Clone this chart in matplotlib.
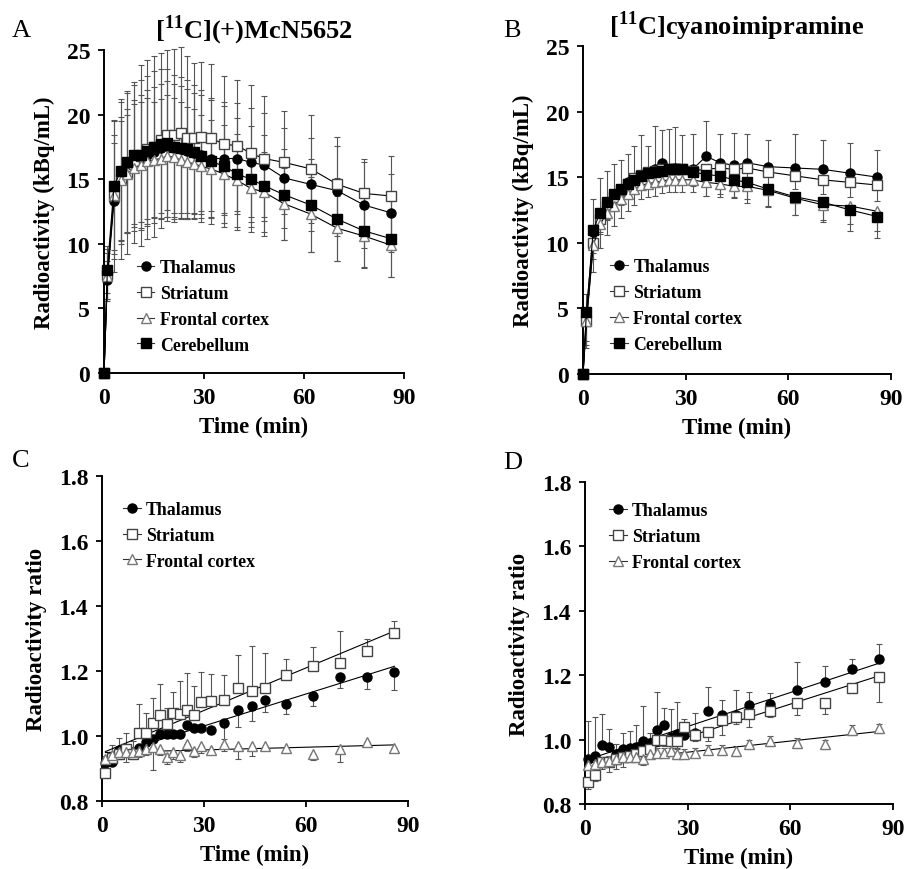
import numpy as np
import matplotlib
matplotlib.use("Agg")
import matplotlib.pyplot as plt

plt.rcParams["font.family"] = ["Liberation Serif", "DejaVu Serif"]
plt.rcParams["font.weight"] = "bold"
plt.rcParams["mathtext.fontset"] = "custom"
plt.rcParams["mathtext.rm"] = "Liberation Serif:bold"
plt.rcParams["mathtext.bf"] = "Liberation Serif:bold"

# frame mid-times (min)
t_kin = [0, 1, 3, 5, 7, 9, 11, 13, 15, 17, 19, 21, 23, 25, 27, 29, 32, 36, 40, 44, 48, 54, 62, 70, 78, 86]
t_ratio = t_kin[1:]

regions = ["Thalamus", "Striatum", "Frontal cortex", "Cerebellum"]

# A: [11C](+)McN5652, kBq/mL, mean and SD
a_thal = [0, 7.2, 13.3, 14.9, 15.6, 16.3, 16.6, 16.9, 17.1, 17.4, 17.6, 17.4, 17.3, 17.2, 17.0, 16.9, 16.6, 16.6, 16.6, 16.3, 16.1, 15.1, 14.6, 14.1, 13.0, 12.4]
a_thal_sd = [0, 1.5, 4.5, 4.6, 4.8, 4.8, 4.9, 5.0, 5.0, 5.0, 5.0, 5.0, 4.9, 4.8, 4.7, 4.6, 4.5, 4.4, 4.3, 4.2, 4.0, 3.9, 3.6, 3.5, 3.3, 3.0]
a_str = [0, 7.6, 13.7, 15.0, 15.5, 16.2, 16.8, 17.3, 17.5, 18.0, 18.4, 18.4, 18.6, 18.2, 18.2, 18.3, 18.2, 17.7, 17.6, 17.0, 16.6, 16.3, 15.8, 14.6, 13.9, 13.7]
a_str_sd = [0, 2.0, 5.9, 6.2, 6.3, 6.1, 7.0, 6.9, 7.0, 6.8, 6.6, 6.7, 6.6, 6.3, 5.8, 5.8, 5.7, 5.3, 5.1, 5.3, 4.8, 4.0, 4.2, 3.7, 2.7, 3.1]
a_fro = [0, 7.5, 13.8, 14.9, 15.4, 15.9, 16.1, 16.4, 16.5, 16.6, 16.8, 16.7, 16.5, 16.3, 16.2, 16.0, 15.8, 15.4, 14.9, 14.3, 14.0, 13.1, 12.3, 11.2, 10.6, 9.9]
a_fro_sd = [0, 1.8, 4.6, 4.9, 4.6, 4.9, 4.9, 4.9, 4.5, 4.6, 4.7, 4.6, 4.5, 4.3, 4.2, 4.0, 3.8, 3.8, 3.6, 3.0, 3.1, 2.8, 2.9, 2.5, 2.4, 2.5]
a_cer = [0, 8.0, 14.5, 15.6, 16.3, 16.9, 16.9, 17.2, 17.5, 17.7, 17.8, 17.5, 17.4, 17.3, 17.1, 16.8, 16.4, 16.0, 15.4, 15.0, 14.5, 13.8, 13.0, 11.9, 11.0, 10.4]
a_cer_sd = [0, 1.8, 5.0, 5.4, 5.4, 5.6, 5.8, 5.8, 5.9, 5.8, 5.7, 5.6, 5.5, 5.4, 5.2, 5.1, 4.9, 4.7, 4.3, 4.1, 3.9, 3.5, 3.6, 3.2, 2.9, 3.0]

# B: [11C]cyanoimipramine, kBq/mL
b_thal = [0, 4.6, 10.8, 12.2, 13.0, 13.6, 14.1, 14.6, 14.9, 15.2, 15.4, 15.6, 16.1, 15.6, 15.7, 15.6, 15.6, 16.6, 16.1, 15.9, 16.1, 15.8, 15.7, 15.6, 15.3, 15.0]
b_thal_up = [0, 1.5, 2.5, 2.7, 2.5, 2.4, 2.2, 2.2, 2.5, 3.0, 2.0, 3.3, 2.5, 3.1, 3.1, 2.6, 2.7, 2.7, 2.2, 2.5, 2.2, 2.0, 2.6, 2.2, 2.3, 2.1]
b_str = [0, 4.0, 10.0, 11.8, 12.8, 13.5, 14.0, 14.5, 14.9, 15.2, 15.4, 15.5, 15.6, 15.6, 15.6, 15.6, 15.5, 15.6, 15.7, 15.6, 15.7, 15.4, 15.1, 14.8, 14.6, 14.4]
b_str_dn = [0, 1.5, 1.2, 1.1, 1.0, 1.0, 1.0, 0.9, 0.9, 0.9, 0.9, 0.9, 0.9, 0.9, 0.9, 0.9, 0.9, 1.0, 1.0, 1.0, 1.0, 1.0, 1.0, 1.1, 1.1, 1.2]
b_fro = [0, 4.0, 9.8, 11.4, 12.3, 12.8, 13.3, 13.7, 14.1, 14.4, 14.5, 14.6, 14.7, 14.8, 14.8, 14.8, 14.8, 14.6, 14.5, 14.3, 14.3, 14.0, 13.4, 12.9, 12.8, 12.4]
b_fro_dn = [0, 2.0, 2.0, 1.8, 1.7, 1.5, 1.4, 1.3, 1.2, 1.1, 1.0, 1.0, 0.9, 0.9, 0.9, 0.9, 0.9, 1.0, 1.0, 0.9, 1.0, 1.2, 1.3, 1.3, 1.4, 1.5]
b_cer = [0, 4.7, 11.0, 12.3, 13.1, 13.7, 14.1, 14.5, 14.8, 15.1, 15.3, 15.4, 15.5, 15.6, 15.6, 15.6, 15.4, 15.2, 15.1, 14.8, 14.6, 14.1, 13.5, 13.1, 12.5, 12.0]
b_cer_dn = [0, 2.5, 1.8, 1.5, 1.4, 1.3, 1.2, 1.2, 1.1, 1.1, 1.1, 1.0, 1.0, 1.0, 1.0, 1.0, 1.1, 1.6, 1.4, 1.3, 1.6, 1.4, 1.4, 1.4, 1.6, 1.6]

# C: ratio to cerebellum, [11C](+)McN5652
c_thal = [0.918, 0.92, 0.956, 0.954, 0.95, 0.964, 0.98, 0.99, 1.005, 1.005, 1.005, 1.005, 1.034, 1.026, 1.026, 1.017, 1.04, 1.079, 1.092, 1.11, 1.097, 1.123, 1.18, 1.18, 1.198]
c_thal_dn = [0.01, 0.01, 0.01, 0.01, 0.01, 0.01, 0.01, 0.01, 0.01, 0.01, 0.01, 0.01, 0.01, 0.01, 0.01, 0.01, 0.05, 0.05, 0.046, 0.037, 0.028, 0.03, 0.033, 0.034, 0.057]
c_str = [0.887, 0.933, 0.944, 0.96, 0.944, 1.01, 1.01, 1.04, 1.064, 1.036, 1.07, 1.067, 1.08, 1.064, 1.105, 1.108, 1.11, 1.149, 1.138, 1.149, 1.187, 1.215, 1.226, 1.26, 1.316]
c_str_up = [0.05, 0.04, 0.05, 0.05, 0.04, 0.088, 0.06, 0.077, 0.096, 0.05, 0.064, 0.103, 0.113, 0.09, 0.093, 0.082, 0.079, 0.1, 0.14, 0.105, 0.05, 0.058, 0.097, 0.038, 0.038]
c_fro = [0.93, 0.94, 0.95, 0.95, 0.95, 0.955, 0.96, 0.965, 0.96, 0.935, 0.95, 0.94, 0.975, 0.955, 0.968, 0.958, 0.975, 0.97, 0.968, 0.97, 0.962, 0.945, 0.96, 0.98, 0.963]
c_fro_dn = [0.02, 0.02, 0.02, 0.03, 0.02, 0.02, 0.02, 0.07, 0.02, 0.02, 0.02, 0.02, 0.02, 0.02, 0.02, 0.01, 0.02, 0.04, 0.03, 0.01, 0.01, 0.02, 0.04, 0.01, 0.01]

# D: ratio to cerebellum, [11C]cyanoimipramine
d_thal = [0.94, 0.95, 0.984, 0.976, 0.955, 0.97, 0.974, 0.976, 0.997, 0.99, 1.03, 1.046, 1.007, 1.018, 1.015, 1.02, 1.09, 1.075, 1.075, 1.108, 1.11, 1.155, 1.18, 1.22, 1.25]
d_thal_up = [0.117, 0.12, 0.095, 0.057, 0.03, 0.052, 0.054, 0.07, 0.107, 0.03, 0.117, 0.052, 0.088, 0.1, 0.05, 0.062, 0.072, 0.047, 0.078, 0.04, 0.036, 0.085, 0.048, 0.03, 0.047]
d_str = [0.867, 0.891, 0.93, 0.93, 0.94, 0.945, 0.95, 0.955, 0.965, 0.97, 1.0, 1.0, 0.995, 0.995, 1.04, 1.015, 1.025, 1.06, 1.07, 1.08, 1.09, 1.115, 1.115, 1.16, 1.195]
d_str_dn = [0.02, 0.02, 0.02, 0.03, 0.03, 0.03, 0.02, 0.02, 0.02, 0.02, 0.02, 0.02, 0.02, 0.02, 0.03, 0.02, 0.03, 0.045, 0.02, 0.04, 0.02, 0.04, 0.035, 0.01, 0.077]
d_fro = [0.92, 0.925, 0.93, 0.935, 0.94, 0.945, 0.945, 0.945, 0.94, 0.955, 0.96, 0.96, 0.965, 0.955, 0.955, 0.96, 0.969, 0.967, 0.964, 0.985, 0.995, 0.99, 0.985, 1.03, 1.035]
d_fro_sd = [0.015, 0.015, 0.015, 0.015, 0.015, 0.015, 0.015, 0.015, 0.02, 0.015, 0.015, 0.015, 0.015, 0.015, 0.015, 0.015, 0.015, 0.015, 0.015, 0.015, 0.015, 0.015, 0.015, 0.015, 0.015]

style = {
    "Thalamus": dict(marker="o", mfc="black", mec="black", ms=6.5),
    "Striatum": dict(marker="s", mfc="white", mec="#444444", ms=7),
    "Frontal cortex": dict(marker="^", mfc="white", mec="#777777", ms=7.5),
    "Cerebellum": dict(marker="s", mfc="black", mec="black", ms=6.5),
}

TICK = 17
LAB = 16.5


def zeros(n):
    return [0] * n


def setup(ax, ylim, yticks, fmt, ylabel):
    ax.set_xlim(0, 90)
    ax.set_ylim(*ylim)
    ax.set_xticks([0, 30, 60, 90])
    ax.set_yticks(yticks)
    ax.set_yticklabels([fmt.format(v) for v in yticks])
    for s in ["top", "right"]:
        ax.spines[s].set_visible(False)
    for s in ["left", "bottom"]:
        ax.spines[s].set_linewidth(1.4)
    ax.tick_params(direction="out", length=4, width=1.3, labelsize=TICK, pad=6)
    ax.set_xlabel("Time (min)", fontsize=LAB, fontweight="bold", labelpad=6)
    ax.set_ylabel(ylabel, fontsize=LAB, fontweight="bold", labelpad=8)


def draw(ax, t, series, lines=True):
    handles = []
    for name, y, lo, hi in series:
        ax.errorbar(t, y, yerr=[lo, hi], fmt="none", ecolor="#555555",
                    elinewidth=0.8, capsize=2.5, capthick=0.8, zorder=2, clip_on=False)
    for name, y, lo, hi in series:
        h, = ax.plot(t, y, ls="-" if lines else "none", color="black", lw=0.8,
                     zorder=3, clip_on=False, **style[name])
        if not lines:
            k, b = np.polyfit(t, y, 1)
            xs = np.array([t[0], t[-1]])
            ax.plot(xs, k * xs + b, color="black", lw=0.8, zorder=2.5)
        handles.append(h)
    return handles


def legend(ax, handles, labels, loc):
    proxies = []
    for h, lab in zip(handles, labels):
        p, = ax.plot([], [], ls="-", color="#333333", lw=0.8, **style[lab])
        proxies.append(p)
    ax.legend(proxies, labels, loc="upper left", bbox_to_anchor=loc, frameon=False,
              prop=dict(family="Liberation Serif", weight="bold", size=12.8),
              handlelength=1.0, handletextpad=0.3, labelspacing=0.5, borderaxespad=0)


fig = plt.figure(figsize=(9.07, 8.7), dpi=100)
axA = fig.add_axes([0.1147, 0.5701, 0.3308, 0.3713])
axB = fig.add_axes([0.6428, 0.569, 0.3396, 0.377])
axC = fig.add_axes([0.1125, 0.0782, 0.3374, 0.3736])
axD = fig.add_axes([0.645, 0.0747, 0.3396, 0.370])

n = len(t_kin)
hA = draw(axA, t_kin, [
    ("Thalamus", a_thal, a_thal_sd, a_thal_sd),
    ("Striatum", a_str, a_str_sd, a_str_sd),
    ("Frontal cortex", a_fro, a_fro_sd, a_fro_sd),
    ("Cerebellum", a_cer, a_cer_sd, a_cer_sd),
])
hB = draw(axB, t_kin, [
    ("Thalamus", b_thal, zeros(n), b_thal_up),
    ("Striatum", b_str, b_str_dn, zeros(n)),
    ("Frontal cortex", b_fro, b_fro_dn, zeros(n)),
    ("Cerebellum", b_cer, b_cer_dn, zeros(n)),
])
m = len(t_ratio)
hC = draw(axC, t_ratio, [
    ("Thalamus", c_thal, c_thal_dn, zeros(m)),
    ("Striatum", c_str, zeros(m), c_str_up),
    ("Frontal cortex", c_fro, c_fro_dn, zeros(m)),
], lines=False)
hD = draw(axD, t_ratio, [
    ("Thalamus", d_thal, zeros(m), d_thal_up),
    ("Striatum", d_str, d_str_dn, zeros(m)),
    ("Frontal cortex", d_fro, d_fro_sd, d_fro_sd),
], lines=False)

kin_ticks = [0, 5, 10, 15, 20, 25]
ratio_ticks = [0.8, 1.0, 1.2, 1.4, 1.6, 1.8]
setup(axA, (0, 25), kin_ticks, "{:d}", "Radioactivity (kBq/mL)")
setup(axB, (0, 25), kin_ticks, "{:d}", "Radioactivity (kBq/mL)")
setup(axC, (0.8, 1.8), ratio_ticks, "{:.1f}", "Radioactivity ratio")
setup(axD, (0.8, 1.8), ratio_ticks, "{:.1f}", "Radioactivity ratio")

legend(axA, hA, regions, (0.085, 0.375))
legend(axB, hB, regions, (0.065, 0.375))
legend(axC, hC, regions[:3], (0.045, 0.945))
legend(axD, hD, regions[:3], (0.055, 0.96))

axA.set_title(r"[$^{\mathbf{11}}$C](+)McN5652", fontsize=19, fontweight="bold", pad=9)
axB.set_title(r"[$^{\mathbf{11}}$C]cyanoimipramine", fontsize=19, fontweight="bold", pad=9)

for x, y, s in [(0.013, 0.957, "A"), (0.555, 0.958, "B"), (0.013, 0.463, "C"), (0.555, 0.461, "D")]:
    fig.text(x, y, s, fontsize=19, fontweight="normal", family="Liberation Serif")

fig.savefig("out.png", dpi=100)
